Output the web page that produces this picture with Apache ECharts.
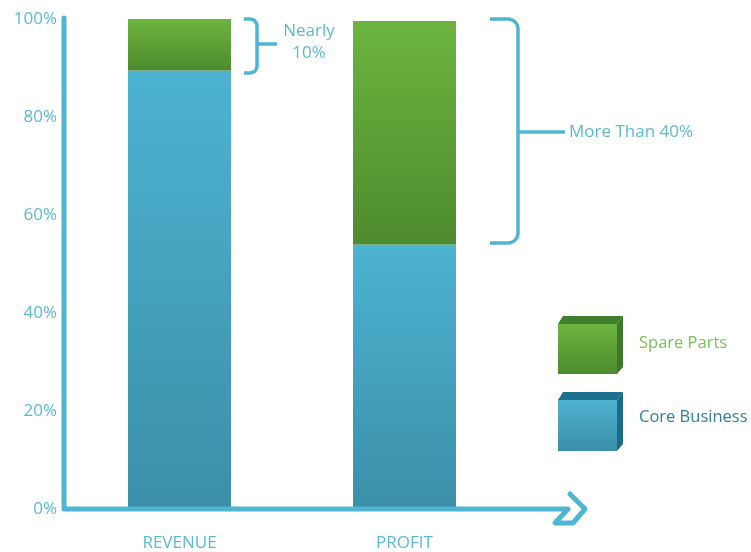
<!DOCTYPE html>
<html>
<head>
<meta charset="utf-8">
<script src="https://cdn.jsdelivr.net/npm/echarts@6/dist/echarts.min.js"></script>
<style>
html,body{margin:0;padding:0;background:#fff;}
#chart{width:751px;height:552px;}
</style>
</head>
<body>
<div id="chart"></div>
<script>
var categories = ['REVENUE', 'PROFIT'];
var coreBusiness = [89.5, 54];
var spareParts = [10.5, 45.6];
var yTicks = [0, 20, 40, 60, 80, 100];
var seriesNames = ['Core Business', 'Spare Parts'];
var annotations = ['Nearly\n10%', 'More Than 40%'];

var FONT = '"Open Sans", sans-serif';
var AXIS_BLUE = '#4eb6d4';
var TEXT_BLUE = '#5cb9d6';

function vgrad(top, bottom) {
  return new echarts.graphic.LinearGradient(0, 0, 0, 1, [
    {offset: 0, color: top}, {offset: 1, color: bottom}
  ]);
}

function bracketPoints(x0, x1, y0, y1, r) {
  var pts = [[x0, y0]];
  var i, a;
  for (i = 0; i <= 8; i++) {
    a = -Math.PI / 2 + (Math.PI / 2) * i / 8;
    pts.push([x1 - r + r * Math.cos(a), y0 + r + r * Math.sin(a)]);
  }
  for (i = 0; i <= 8; i++) {
    a = (Math.PI / 2) * i / 8;
    pts.push([x1 - r + r * Math.cos(a), y1 - r + r * Math.sin(a)]);
  }
  pts.push([x0, y1]);
  return pts;
}

var chart = echarts.init(document.getElementById('chart'));
var option = {
  animation: false,
  backgroundColor: '#ffffff',
  grid: {left: 67, width: 450, top: 19, bottom: 43},
  xAxis: {
    type: 'category',
    data: categories,
    axisLine: {show: false},
    axisTick: {show: false},
    axisLabel: {color: TEXT_BLUE, fontFamily: FONT, fontSize: 17, margin: 26}
  },
  yAxis: {
    type: 'value',
    min: 0, max: 100, interval: 20,
    splitLine: {show: false},
    axisLine: {show: false},
    axisTick: {show: false},
    axisLabel: {
      color: TEXT_BLUE, fontFamily: FONT, fontSize: 17, margin: 10,
      padding: [4, 0, 0, 0],
      formatter: function (v) { return yTicks.indexOf(v) >= 0 ? v + '%' : ''; }
    }
  },
  series: [
    {
      name: seriesNames[0], type: 'bar', stack: 'total', barWidth: 103,
      data: coreBusiness,
      itemStyle: {color: vgrad('#4db3d1', '#3b8fa8')}
    },
    {
      name: seriesNames[1], type: 'bar', stack: 'total', barWidth: 103,
      data: spareParts,
      itemStyle: {color: vgrad('#6db43f', '#4e8b2e')}
    }
  ],
  graphic: [
    {
      type: 'polyline', z: 10,
      shape: {points: [[64, 18], [64, 509], [568, 509], [555, 523], [573, 523], [585, 509], [570, 494]]},
      style: {stroke: AXIS_BLUE, lineWidth: 5, fill: null, lineJoin: 'round', lineCap: 'round'}
    },
    {
      type: 'polyline', z: 10,
      shape: {points: bracketPoints(244, 257, 19, 73, 7)},
      style: {stroke: AXIS_BLUE, lineWidth: 3.5, fill: null}
    },
    {
      type: 'line', z: 10,
      shape: {x1: 257, y1: 44, x2: 277, y2: 44},
      style: {stroke: AXIS_BLUE, lineWidth: 3.5}
    },
    {
      type: 'text', z: 10, x: 309, y: 20,
      style: {text: annotations[0], fill: TEXT_BLUE, font: '17px ' + FONT, textAlign: 'center', lineHeight: 22}
    },
    {
      type: 'polyline', z: 10,
      shape: {points: bracketPoints(490, 518, 19, 243, 10)},
      style: {stroke: AXIS_BLUE, lineWidth: 3.5, fill: null}
    },
    {
      type: 'line', z: 10,
      shape: {x1: 518, y1: 132, x2: 565, y2: 132},
      style: {stroke: AXIS_BLUE, lineWidth: 3.5}
    },
    {
      type: 'text', z: 10, x: 569, y: 132,
      style: {text: annotations[1], fill: TEXT_BLUE, font: '17px ' + FONT, textVerticalAlign: 'middle'}
    },
    {type: 'polygon', shape: {points: [[558, 324], [563, 316], [623, 316], [617, 324]]}, style: {fill: '#3d7f2c'}},
    {type: 'polygon', shape: {points: [[617, 324], [623, 316], [623, 367], [617, 374]]}, style: {fill: '#3a7a2a'}},
    {type: 'rect', shape: {x: 558, y: 324, width: 59, height: 50}, style: {fill: vgrad('#6db43f', '#4e8b2e')}},
    {
      type: 'text', x: 639, y: 343,
      style: {text: seriesNames[1], fill: '#7bbf57', font: '16.5px ' + FONT, textVerticalAlign: 'middle'}
    },
    {type: 'polygon', shape: {points: [[558, 400], [563, 392], [623, 392], [617, 400]]}, style: {fill: '#1b718d'}},
    {type: 'polygon', shape: {points: [[617, 400], [623, 392], [623, 444], [617, 451]]}, style: {fill: '#176c87'}},
    {type: 'rect', shape: {x: 558, y: 400, width: 59, height: 51}, style: {fill: vgrad('#4db3d1', '#3b8fa8')}},
    {
      type: 'text', x: 639, y: 417,
      style: {text: seriesNames[0], fill: '#2b809f', font: '16.5px ' + FONT, textVerticalAlign: 'middle'}
    }
  ]
};
chart.setOption(option);
</script>
</body>
</html>
